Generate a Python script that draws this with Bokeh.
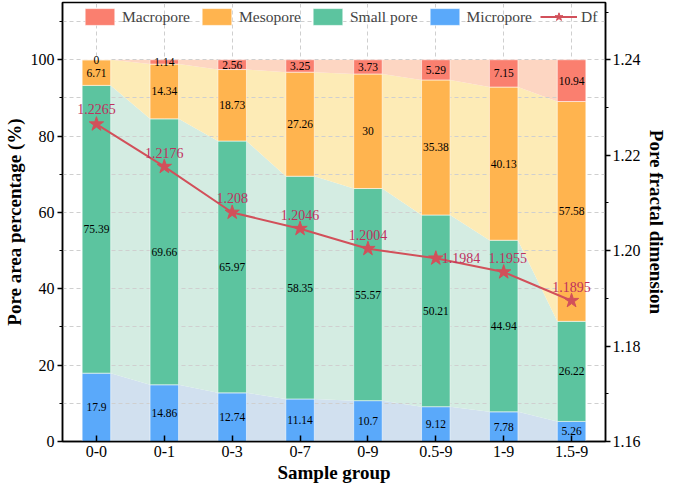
from bokeh.plotting import figure
from bokeh.models import (Range1d, LinearAxis, ColumnDataSource, LegendItem, Legend,
                          FixedTicker, NumeralTickFormatter)
from bokeh.core.properties import value
from bokeh.embed import file_html
from bokeh.resources import INLINE

# ---------------- data ----------------
groups = ["0-0", "0-1", "0-3", "0-7", "0-9", "0.5-9", "1-9", "1.5-9"]
micropore = [17.9, 14.86, 12.74, 11.14, 10.7, 9.12, 7.78, 5.26]
small_pore = [75.39, 69.66, 65.97, 58.35, 55.57, 50.21, 44.94, 26.22]
mesopore = [6.71, 14.34, 18.73, 27.26, 30, 35.38, 40.13, 57.58]
macropore = [0, 1.14, 2.56, 3.25, 3.73, 5.29, 7.15, 10.94]
df_values = [1.2265, 1.2176, 1.208, 1.2046, 1.2004, 1.1984, 1.1955, 1.1895]

series_names = ["Micropore", "Small pore", "Mesopore", "Macropore"]
series_vals = [micropore, small_pore, mesopore, macropore]

# ---------------- styles ----------------
FONT = "Liberation Serif"
bar_colors = ["#5AA9FA", "#5CC49F", "#FFB44F", "#FA7F6F"]
light_colors = ["#D1E0EF", "#D4ECE2", "#FDEBB6", "#FDD6C2"]
line_color = "#D2505A"
df_text_color = "#C0305E"
bar_w = 0.42
# label placement for the Df values (screen px)
df_dx = [0, 0, 0, 0, 0, 6, 4, 0]
df_dy = [-15, -14, -14, -14, -14, 0, -14, -14]
df_align = ["center", "center", "center", "center", "center", "left", "center", "center"]

n = len(groups)
xs = list(range(n))

p = figure(width=669, height=485, output_backend="svg", toolbar_location=None,
           x_range=Range1d(-0.5, n - 0.5), y_range=Range1d(0, 115),
           min_border_left=60, min_border_right=54, min_border_top=2, min_border_bottom=42)
p.extra_y_ranges = {"df": Range1d(1.16, 1.16 + 0.08 * 1.15)}

# stacked bottoms/tops
bottoms, tops = [], []
cum = [0.0] * n
for vals in series_vals:
    b = cum[:]
    t = [c + v for c, v in zip(cum, vals)]
    bottoms.append(b)
    tops.append(t)
    cum = t

# light connecting areas
for k in range(4):
    ax, ay1, ay2 = [], [], []
    for i in range(n):
        for x in (xs[i] - bar_w / 2, xs[i] + bar_w / 2):
            ax.append(x)
            ay1.append(bottoms[k][i])
            ay2.append(tops[k][i])
    p.varea(x=ax, y1=ay1, y2=ay2, fill_color=light_colors[k], fill_alpha=1.0, level="image")

# bars
bar_renderers = []
for k in range(4):
    r = p.vbar(x=xs, width=bar_w, bottom=bottoms[k], top=tops[k],
               fill_color=bar_colors[k], line_color="white", line_alpha=0.55, line_width=1)
    bar_renderers.append(r)

# bar value labels
lx, ly, lt = [], [], []
for k in range(4):
    for i in range(n):
        lx.append(xs[i])
        ly.append((bottoms[k][i] + tops[k][i]) / 2)
        lt.append(f"{series_vals[k][i]:g}")
p.text(x=lx, y=ly, text=lt, text_align="center", text_baseline="middle",
       text_font=value(FONT), text_font_size="11.5px", text_color="black")

# Df line
line_r = p.line(x=xs, y=df_values, y_range_name="df", line_color=line_color, line_width=2)
star_r = p.scatter(x=xs, y=df_values, y_range_name="df", marker="star", size=15,
                   fill_color=line_color, line_color=line_color)
df_src = ColumnDataSource(dict(x=xs, y=df_values, t=[f"{v:g}" for v in df_values],
                               dx=df_dx, dy=df_dy, al=df_align))
p.text(x="x", y="y", text="t", source=df_src, y_range_name="df", x_offset="dx", y_offset="dy",
       text_align="al", text_baseline="middle", text_font=value(FONT), text_font_size="14px",
       text_color=df_text_color)

# grids
p.xgrid.ticker = FixedTicker(ticks=xs)
p.ygrid.ticker = FixedTicker(ticks=[0, 20, 40, 60, 80, 100], minor_ticks=[10, 30, 50, 70, 90, 110])
for g in (p.xgrid, p.ygrid):
    g.grid_line_color = "#CFCFCF"
    g.grid_line_dash = "4 3"
    g.grid_line_width = 1
p.ygrid.minor_grid_line_color = "#CFCFCF"
p.ygrid.minor_grid_line_dash = "4 3"

# axes
p.xaxis.ticker = FixedTicker(ticks=xs)
p.xaxis.major_label_overrides = {i: g for i, g in enumerate(groups)}
p.xaxis.major_tick_in = 6
p.xaxis.major_tick_out = 0
p.xaxis.axis_label = "Sample group"

p.yaxis.ticker = FixedTicker(ticks=[0, 20, 40, 60, 80, 100], minor_ticks=[10, 30, 50, 70, 90, 110])
p.yaxis.major_tick_in = 0
p.yaxis.major_tick_out = 5
p.yaxis.minor_tick_in = 0
p.yaxis.minor_tick_out = 3
p.yaxis.axis_label = "Pore area percentage (%)"

ry = LinearAxis(y_range_name="df", axis_label="Pore fractal dimension",
                ticker=FixedTicker(ticks=[1.16, 1.18, 1.20, 1.22, 1.24],
                                   minor_ticks=[1.17, 1.19, 1.21, 1.23, 1.25]),
                formatter=NumeralTickFormatter(format="0.00"))
ry.major_tick_in = 0
ry.major_tick_out = 5
ry.minor_tick_in = 0
ry.minor_tick_out = 3
p.add_layout(ry, "right")

for ax in (p.xaxis[0], p.yaxis[0], ry):
    ax.axis_line_color = "black"
    ax.axis_line_width = 1.5
    ax.major_tick_line_color = "black"
    ax.major_tick_line_width = 1.5
    ax.minor_tick_line_color = "black"
    ax.minor_tick_line_width = 1.2
    ax.major_label_text_font = FONT
    ax.major_label_text_font_size = "16px"
    ax.major_label_text_color = "black"
    ax.major_label_standoff = 3
    ax.axis_label_text_font = FONT
    ax.axis_label_text_font_size = "19px"
    ax.axis_label_text_font_style = "bold"
    ax.axis_label_text_color = "black"
    ax.axis_label_standoff = 3
ry.major_label_standoff = 2
ry.axis_label_standoff = 2
p.xaxis.minor_tick_line_color = None
p.xaxis.major_label_standoff = 4
p.xaxis.axis_label_standoff = 2

p.outline_line_color = "black"
p.outline_line_width = 1.5
p.outline_line_alpha = 1.0

# legend
items = [LegendItem(label=series_names[k], renderers=[bar_renderers[k]]) for k in (3, 2, 1, 0)]
items.append(LegendItem(label="Df", renderers=[line_r, star_r]))
legend = Legend(items=items, orientation="horizontal", location="top_right",
                margin=0, padding=4, spacing=8, label_standoff=4,
                glyph_width=37, glyph_height=21,
                label_text_font=FONT, label_text_font_size="15.5px",
                background_fill_alpha=0, border_line_alpha=0)
p.add_layout(legend, "center")

open("out.html", "w").write(file_html(p, INLINE))
